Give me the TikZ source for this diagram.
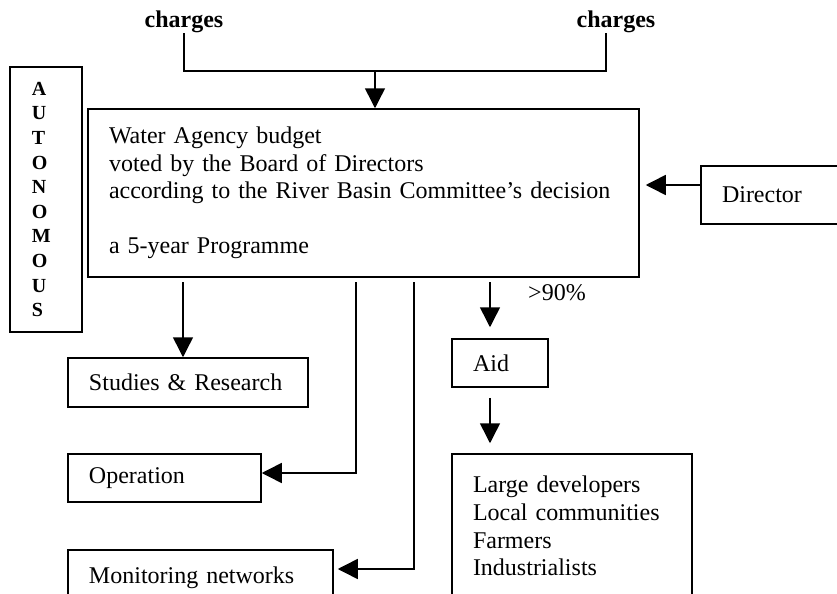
\documentclass[tikz,border=0pt]{standalone}
\usepackage{fontspec}
\setmainfont{Liberation Serif}
\usetikzlibrary{arrows.meta}

\begin{document}
\begin{tikzpicture}[x=0.5pt, y=-0.5pt,
    every node/.style={font=\fontsize{12}{13.8}\selectfont},
    box/.style={draw, line width=0.75pt, inner xsep=10.5pt, inner ysep=0pt, align=left},
    arr/.style={-{Triangle[length=10pt,width=10pt]}, line width=0.75pt},
    link/.style={line width=0.75pt}]
    \useasboundingbox (0,0) rectangle (837,594);
    \clip (0,0) rectangle (837,594);
    \node (chL) [inner sep=0pt, font=\bfseries\fontsize{12}{13.8}\selectfont] at (184,22) {charges};
    \node (chR) [inner sep=0pt, font=\bfseries\fontsize{12}{13.8}\selectfont] at (616,22) {charges};
    \node (budget) [box, minimum width=275.5pt, minimum height=84pt, text width=254.5pt] at (363.5,193)
        {Water Agency budget\\ voted by the Board of Directors\\ according to the River Basin Committee’s decision\\[13.8pt] a 5-year Programme};
    \node (auto) [box, inner xsep=11pt, minimum width=36pt, minimum height=132.5pt, text width=14pt,
        font=\bfseries\fontsize{10}{12.3}\selectfont] at (46,199.5)
        {A\\ U\\ T\\ O\\ N\\ O\\ M\\ O\\ U\\ S};
    \node (director) [box, minimum width=86pt, minimum height=29pt, text width=65pt] at (787,195) {Director};
    \node (studies) [box, minimum width=120pt, minimum height=24.5pt, text width=99pt] at (188,382.5) {Studies \& Research};
    \node (operation) [box, minimum width=96.5pt, minimum height=24pt, text width=75.5pt] at (164.5,478) {Operation};
    \node (monitor) [box, minimum width=132.5pt, minimum height=28pt, text width=111.5pt] at (200.5,578) {Monitoring networks};
    \node (aid) [box, minimum width=48pt, minimum height=24pt, text width=27pt] at (500,363) {Aid};
    \node (users) [box, minimum width=120pt, minimum height=72pt, text width=99pt] at (572,526)
        {Large developers\\ Local communities\\ Farmers\\ Industrialists};
    \node (share) [inner sep=0pt] at (557,293) {>90\%};
    \coordinate (jR) at (606,71);
    \coordinate (jM) at (375,71);
    \coordinate (t1) at (183,277);
    \coordinate (t2) at (356,277);
    \coordinate (t3) at (414,277);
    \coordinate (t4) at (490,277);
    \draw[link] (chL.south) |- (jR) -- (jR |- chR.south);
    \draw[arr] (jM) -- (jM |- budget.north);
    \draw[arr, shorten >=3pt] ([yshift=5pt]director.west) -- ([yshift=5pt]director.west -| budget.east);
    \draw[arr, shorten <=2.5pt] (t1) -- (t1 |- studies.north);
    \draw[arr, shorten <=2.5pt] (t2) |- ([yshift=2.5pt]operation.east);
    \draw[arr, shorten <=2.5pt, shorten >=2pt] (t3) |- ([yshift=4.5pt]monitor.east);
    \draw[arr, shorten <=2.5pt, shorten >=5.5pt] (t4) -- (t4 |- aid.north);
    \draw[arr, shorten <=5pt, shorten >=5pt] (t4 |- aid.south) -- (t4 |- users.north);
\end{tikzpicture}
\end{document}
